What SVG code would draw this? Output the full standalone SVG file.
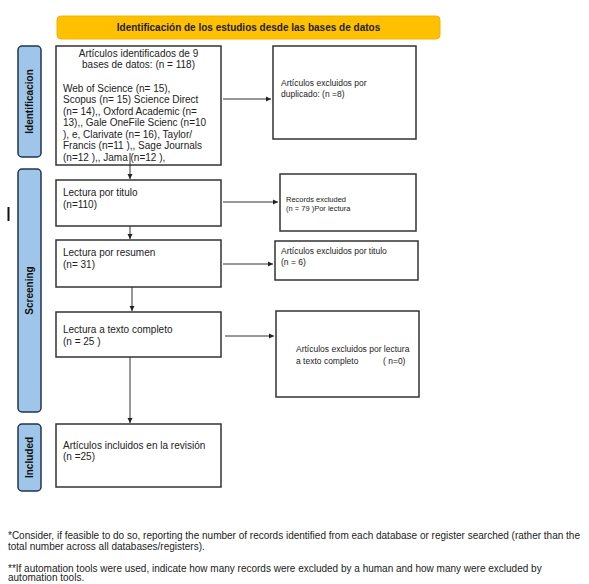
<svg xmlns="http://www.w3.org/2000/svg" width="589" height="584" viewBox="0 0 589 584">
<style>
text{font-family:"Liberation Sans",Arial,sans-serif;fill:#222;}
.box{fill:#fff;stroke:#333;stroke-width:1.5;}
.side{fill:#9fc5e8;stroke:#1f3550;stroke-width:1.5;}
.side-t{font-size:10px;font-weight:bold;fill:#111;}
.t10{font-size:10px;}
.t85{font-size:8.5px;}
.t75{font-size:7.5px;}
.foot{font-size:10px;}
.conn line{stroke:#333;stroke-width:1;fill:none;}
</style>
<defs>
<marker id="ah" markerWidth="6" markerHeight="6" refX="5" refY="3" orient="auto" markerUnits="userSpaceOnUse">
<path d="M0,0.5 L5,3 L0,5.5 Z" fill="#222"/>
</marker>
</defs>
<rect width="589" height="584" fill="#fff"/>
<g id="banner">
<rect x="57" y="16" width="383" height="23" rx="4" fill="#ffc000" stroke="#f2b400" stroke-width="1"/>
<text x="248.5" y="31" text-anchor="middle" style="font-size:10px;font-weight:bold">Identificación de los estudios desde las bases de datos</text>
</g>
<g id="side-identificacion">
<rect class="side" x="18" y="46" width="23" height="111" rx="4"/>
<text class="side-t" transform="translate(33,101.5) rotate(-90)" text-anchor="middle">Identificacion</text>
</g>
<g id="side-screening">
<rect class="side" x="18" y="169" width="23" height="243" rx="4"/>
<text class="side-t" transform="translate(33,290.5) rotate(-90)" text-anchor="middle">Screening</text>
</g>
<g id="side-included">
<rect class="side" x="18" y="424" width="23" height="67" rx="4"/>
<text class="side-t" transform="translate(33,457.5) rotate(-90)" text-anchor="middle">Included</text>
</g>
<g id="stray-mark">
<line x1="8.5" y1="207" x2="8.5" y2="221" stroke="#111" stroke-width="2"/>
</g>
<g id="n-identified">
<rect class="box" x="56" y="46" width="165" height="119"/>
<text class="t10" x="138.5" y="56.5" text-anchor="middle">Artículos identificados de 9</text>
<text class="t10" x="138.5" y="68" text-anchor="middle">bases de datos:  (n = 118)</text>
<text class="t10" x="63" y="91.5">Web of Science (n= 15),</text>
<text class="t10" x="63" y="103">Scopus (n= 15) Science Direct</text>
<text class="t10" x="63" y="114.5">(n= 14),, Oxford Academic (n=</text>
<text class="t10" x="63" y="126">13),, Gale OneFile Scienc (n=10</text>
<text class="t10" x="63" y="137.5">), e, Clarivate (n= 16), Taylor/</text>
<text class="t10" x="63" y="149">Francis (n=11 ),, Sage Journals</text>
<text class="t10" x="63" y="160.5">(n=12 ),, Jama (n=12 ),</text>
</g>
<g id="n-duplicates">
<rect class="box" x="273" y="46" width="143" height="93"/>
<text class="t85" x="281" y="86">Artículos excluidos por</text>
<text class="t85" x="281" y="97">duplicado:  (n =8)</text>
</g>
<g id="n-title">
<rect class="box" x="56" y="180" width="165" height="46"/>
<text class="t10" x="63" y="195.5">Lectura por titulo</text>
<text class="t10" x="63" y="207.5">(n=110)</text>
</g>
<g id="n-records-excluded">
<rect class="box" x="280" y="174" width="136" height="57"/>
<text class="t75" x="286" y="201.5">Records excluded</text>
<text class="t75" x="286" y="210.5">(n = 79 )Por lectura</text>
</g>
<g id="n-abstract">
<rect class="box" x="56" y="240" width="165" height="47"/>
<text class="t10" x="63" y="255.5">Lectura por resumen</text>
<text class="t10" x="63" y="267.5"> (n= 31)</text>
</g>
<g id="n-excl-title">
<rect class="box" x="275" y="241" width="143" height="39"/>
<text class="t85" x="281" y="254">Artículos excluidos por titulo</text>
<text class="t85" x="281" y="264.5">(n = 6)</text>
</g>
<g id="n-fulltext">
<rect class="box" x="56" y="312" width="165" height="45"/>
<text class="t10" x="63" y="332.5">Lectura a texto completo</text>
<text class="t10" x="63" y="345">(n = 25 )</text>
</g>
<g id="n-excl-fulltext">
<rect class="box" x="276" y="311" width="143" height="86"/>
<text class="t85" x="296" y="352">Artículos excluidos por lectura</text>
<text class="t85" x="296" y="364">a texto completo</text>
<text class="t85" x="383" y="364">( n=0)</text>
</g>
<g id="n-included">
<rect class="box" x="56" y="424" width="165" height="63"/>
<text class="t10" x="63" y="448.5">Artículos incluidos en la revisión</text>
<text class="t10" x="63" y="460">(n =25)</text>
</g>
<g class="conn" id="connectors">
<line x1="223" y1="99" x2="271" y2="99" marker-end="url(#ah)"/>
<line x1="130" y1="153" x2="130" y2="179" marker-end="url(#ah)"/>
<line x1="223" y1="202" x2="278" y2="202" marker-end="url(#ah)"/>
<line x1="130" y1="226" x2="130" y2="239" marker-end="url(#ah)"/>
<line x1="223" y1="264" x2="273" y2="264" marker-end="url(#ah)"/>
<line x1="132" y1="287" x2="132" y2="311" marker-end="url(#ah)"/>
<line x1="225" y1="336" x2="274" y2="336" marker-end="url(#ah)"/>
<line x1="130" y1="357" x2="130" y2="423" marker-end="url(#ah)"/>
</g>
<g id="footnotes">
<text class="foot" x="8" y="538.5">*Consider, if feasible to do so, reporting the number of records identified from each database or register searched (rather than the</text>
<text class="foot" x="8" y="549.5">total number across all databases/registers).</text>
<text class="foot" x="8" y="571.5">**If automation tools were used, indicate how many records were excluded by a human and how many were excluded by</text>
<text class="foot" x="8" y="581">automation tools.</text>
</g>
</svg>
